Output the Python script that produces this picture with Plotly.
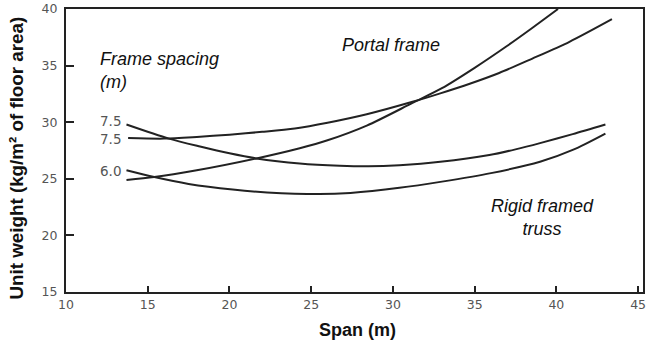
import plotly.graph_objects as go

# Portal frame, 7.5 m spacing
portal75_x = [13.8, 16.0, 18.0, 20.0, 22.0, 24.0, 26.0, 28.4, 31.2, 32.9, 34.7, 36.5, 38.5, 40.8, 43.4]
portal75_y = [28.6, 28.55, 28.7, 28.9, 29.15, 29.45, 29.95, 30.7, 31.8, 32.55, 33.4, 34.35, 35.6, 37.1, 39.1]

# Portal frame, 6.0 m spacing
portal60_x = [13.7, 15.4, 18.0, 21.65, 24.3, 26.0, 28.4, 31.2, 33.0, 35.0, 37.0, 38.5, 40.1]
portal60_y = [24.9, 25.15, 25.75, 26.8, 27.7, 28.4, 29.7, 31.7, 33.0, 34.8, 36.75, 38.3, 40.0]

# Rigid framed truss, 7.5 m spacing
truss75_x = [13.7, 16.3, 18.2, 20.0, 21.65, 24.3, 26.75, 28.5, 30.4, 32.9, 35.9, 37.5, 39.0, 41.0, 43.0]
truss75_y = [29.8, 28.55, 27.85, 27.25, 26.8, 26.35, 26.15, 26.1, 26.2, 26.5, 27.1, 27.6, 28.15, 28.95, 29.8]

# Rigid framed truss, 6.0 m spacing
truss60_x = [13.7, 15.4, 17.5, 20.2, 22.3, 25.5, 27.4, 30.4, 33.0, 36.0, 39.0, 41.0, 43.0]
truss60_y = [25.75, 25.15, 24.55, 24.05, 23.8, 23.65, 23.75, 24.2, 24.75, 25.5, 26.5, 27.55, 29.0]

spacing_labels = ["7.5", "7.5", "6.0"]
spacing_label_y = [30.1, 28.5, 25.7]

x_ticks = [10, 15, 20, 25, 30, 35, 40, 45]
y_ticks = [15, 20, 25, 30, 35, 40]

LINE = "#222222"
fig = go.Figure()
for xs, ys in [(portal75_x, portal75_y), (portal60_x, portal60_y),
               (truss75_x, truss75_y), (truss60_x, truss60_y)]:
    fig.add_trace(go.Scatter(x=xs, y=ys, mode="lines",
                             line=dict(color=LINE, width=2, shape="spline", smoothing=0.8),
                             showlegend=False, hoverinfo="skip"))

tickfont = dict(family="DejaVu Sans, Verdana, sans-serif", size=12.5, color="#555555")
fig.update_xaxes(range=[10, 45.3], tickvals=x_ticks, ticktext=[str(v) for v in x_ticks],
                 ticks="inside", ticklen=6, tickwidth=2, tickcolor=LINE,
                 showline=True, linewidth=2, linecolor=LINE, mirror=True, automargin=False,
                 showgrid=False, zeroline=False, tickfont=tickfont)
fig.update_yaxes(range=[15, 40], tickvals=y_ticks, ticktext=[str(v) for v in y_ticks],
                 ticks="inside", ticklen=8, tickwidth=2, tickcolor=LINE,
                 showline=True, linewidth=2, linecolor=LINE, mirror=True, automargin=False,
                 showgrid=False, zeroline=False, tickfont=tickfont, ticklabelstandoff=4)

for lab, yy in zip(spacing_labels, spacing_label_y):
    fig.add_annotation(x=13.5, y=yy, text=lab, showarrow=False, xanchor="right", yanchor="middle",
                       font=dict(family="DejaVu Sans, Verdana, sans-serif", size=13.5, color="#555555"))

ital = dict(family="Liberation Sans, Arial, sans-serif", size=18, color="#111111")
fig.add_annotation(x=11.96, y=34.6, text="<i>Frame spacing<br>(m)</i>", showarrow=False,
                   xanchor="left", yanchor="middle", align="left", font=ital)
fig.add_annotation(x=29.88, y=36.82, text="<i>Portal frame</i>", showarrow=False,
                   xanchor="center", yanchor="middle", font=ital)
fig.add_annotation(x=39.17, y=21.58, text="<i>Rigid framed<br>truss</i>", showarrow=False,
                   xanchor="center", yanchor="middle", align="center", font=ital)

bold = dict(family="Liberation Sans, Arial, sans-serif", size=18, color="#111111")
fig.add_annotation(xref="paper", yref="paper", x=0.506, y=-0.134, text="<b>Span (m)</b>",
                   showarrow=False, xanchor="center", yanchor="middle", font=bold)
fig.add_annotation(xref="paper", yref="paper", x=-0.085, y=0.475,
                   text="<b>Unit weight (kg/m² of floor area)</b>", textangle=-90,
                   showarrow=False, xanchor="center", yanchor="middle",
                   font=dict(family="Liberation Sans, Arial, sans-serif", size=18.8, color="#111111"))

fig.update_layout(width=653, height=342, margin=dict(l=66, r=10, t=9, b=50),
                  plot_bgcolor="white", paper_bgcolor="white")
fig.write_html("out.html", config={"displayModeBar": False},
               post_script="document.body.style.margin='0px';")
